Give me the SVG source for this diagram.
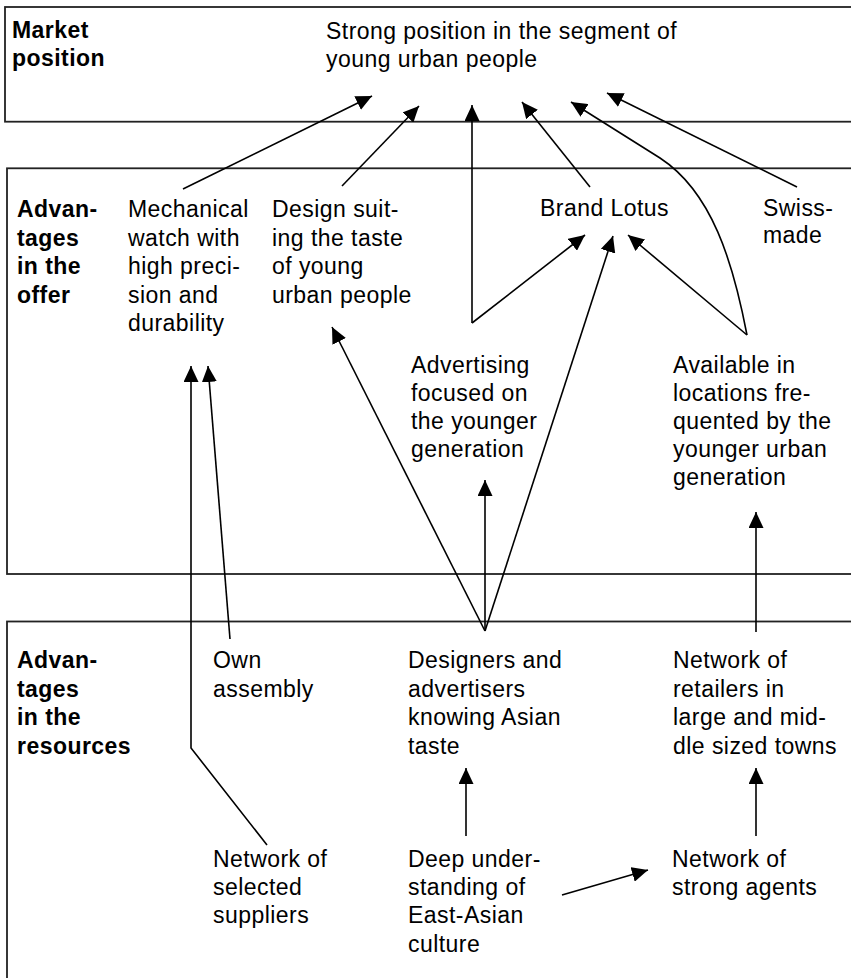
<svg xmlns="http://www.w3.org/2000/svg" width="851" height="978" viewBox="0 0 851 978">
  <style>
    .band { fill: #ffffff; stroke: #222222; stroke-width: 1.8; }
    .t { font-family: "Liberation Sans", Arial, Helvetica, sans-serif; font-size: 23px; letter-spacing: 0.45px; fill: #000000; }
    .lbl { font-weight: bold; }
    .c { fill: none; stroke: #000000; stroke-width: 1.6; marker-end: url(#head); }
  </style>
  <defs>
    <marker id="head" markerUnits="userSpaceOnUse" markerWidth="16" markerHeight="15" refX="16" refY="7.5" orient="auto">
      <path d="M0,0 L16,7.5 L0,15 Z" fill="#000000"/>
    </marker>
  </defs>
  <rect width="851" height="978" fill="#ffffff"/>

  <!-- horizontal bands -->
  <g id="bands">
    <rect class="band" x="5" y="7" width="900" height="114.7"/>
    <rect class="band" x="7" y="168.3" width="900" height="405.7"/>
    <rect class="band" x="7" y="621.5" width="900" height="400"/>
  </g>

  <!-- band labels -->
  <g id="label-market">
    <text class="t lbl" x="12" y="38">Market</text>
    <text class="t lbl" x="12" y="66">position</text>
  </g>
  <g id="label-offer">
    <text class="t lbl" x="17" y="217">Advan-</text>
    <text class="t lbl" x="17" y="245.5">tages</text>
    <text class="t lbl" x="17" y="274">in the</text>
    <text class="t lbl" x="17" y="302.5">offer</text>
  </g>
  <g id="label-resources">
    <text class="t lbl" x="17" y="668">Advan-</text>
    <text class="t lbl" x="17" y="696.5">tages</text>
    <text class="t lbl" x="17" y="725">in the</text>
    <text class="t lbl" x="17" y="753.5">resources</text>
  </g>

  <!-- market position -->
  <g id="strong-position">
    <text class="t" x="326" y="39">Strong position in the segment of</text>
    <text class="t" x="326" y="67">young urban people</text>
  </g>

  <!-- offer -->
  <g id="mechanical-watch">
    <text class="t" x="128" y="217">Mechanical</text>
    <text class="t" x="128" y="245.5">watch with</text>
    <text class="t" x="128" y="274">high preci-</text>
    <text class="t" x="128" y="302.5">sion and</text>
    <text class="t" x="128" y="331">durability</text>
  </g>
  <g id="design">
    <text class="t" x="272" y="217">Design suit-</text>
    <text class="t" x="272" y="245.5">ing the taste</text>
    <text class="t" x="272" y="274">of young</text>
    <text class="t" x="272" y="302.5">urban people</text>
  </g>
  <g id="brand-lotus">
    <text class="t" x="540" y="216">Brand Lotus</text>
  </g>
  <g id="swiss-made">
    <text class="t" x="763" y="216">Swiss-</text>
    <text class="t" x="763" y="243">made</text>
  </g>
  <g id="advertising">
    <text class="t" x="411" y="373">Advertising</text>
    <text class="t" x="411" y="401">focused on</text>
    <text class="t" x="411" y="429">the younger</text>
    <text class="t" x="411" y="457">generation</text>
  </g>
  <g id="available">
    <text class="t" x="673" y="373">Available in</text>
    <text class="t" x="673" y="401">locations fre-</text>
    <text class="t" x="673" y="429">quented by the</text>
    <text class="t" x="673" y="457">younger urban</text>
    <text class="t" x="673" y="485">generation</text>
  </g>

  <!-- resources -->
  <g id="own-assembly">
    <text class="t" x="213" y="668">Own</text>
    <text class="t" x="213" y="696.5">assembly</text>
  </g>
  <g id="designers">
    <text class="t" x="408" y="668">Designers and</text>
    <text class="t" x="408" y="696.5">advertisers</text>
    <text class="t" x="408" y="725">knowing Asian</text>
    <text class="t" x="408" y="753.5">taste</text>
  </g>
  <g id="retailers">
    <text class="t" x="673" y="668">Network of</text>
    <text class="t" x="673" y="696.5">retailers in</text>
    <text class="t" x="673" y="725">large and mid-</text>
    <text class="t" x="673" y="753.5">dle sized towns</text>
  </g>
  <g id="suppliers">
    <text class="t" x="213" y="867">Network of</text>
    <text class="t" x="213" y="895">selected</text>
    <text class="t" x="213" y="923">suppliers</text>
  </g>
  <g id="east-asian">
    <text class="t" x="408" y="867">Deep under-</text>
    <text class="t" x="408" y="895">standing of</text>
    <text class="t" x="408" y="923">East-Asian</text>
    <text class="t" x="408" y="951.5">culture</text>
  </g>
  <g id="agents">
    <text class="t" x="672" y="867">Network of</text>
    <text class="t" x="672" y="895">strong agents</text>
  </g>

  <!-- connectors -->
  <g id="connectors">
    <path class="c" d="M183,189 L372,96"/>
    <path class="c" d="M342,186 L419,106"/>
    <path class="c" d="M472,323 L472,105"/>
    <path class="c" d="M472,323 L585,235"/>
    <path class="c" d="M590,187 L522,102"/>
    <path class="c" d="M747,335 C733,262 712,192 660,158 L571,102"/>
    <path class="c" d="M797,187 L607,93"/>
    <path class="c" d="M747,335 L628,235"/>
    <path class="c" d="M485,631 L613,236"/>
    <path class="c" d="M485,631 L485,480"/>
    <path class="c" d="M485,631 L332,327"/>
    <path class="c" d="M267,845 L191,748 L191,366"/>
    <path class="c" d="M230,639 L208,366"/>
    <path class="c" d="M756,632 L756,512"/>
    <path class="c" d="M466,836 L466,768"/>
    <path class="c" d="M756,836 L756,768"/>
    <path class="c" d="M562,895 L648,870"/>
  </g>
</svg>
